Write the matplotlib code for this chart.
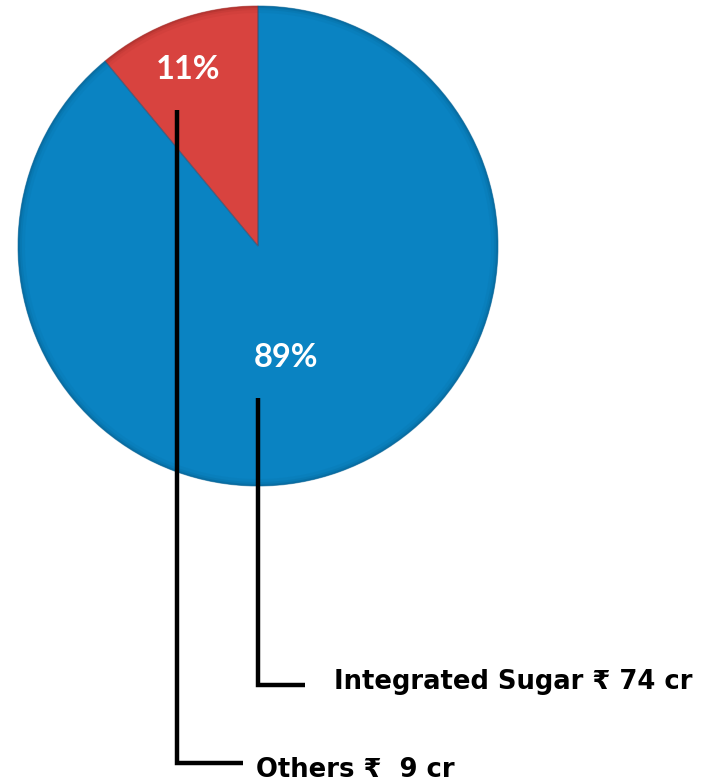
import numpy as np
import matplotlib.pyplot as plt
from matplotlib.patches import Wedge

# segment shares (%) and rupee amounts
segments = ["Others", "Integrated Sugar"]
shares = [11, 89]
amounts = ["₹  9 cr", "₹ 74 cr"]
colors = ["#D8433F", "#0A83C2"]
edge_colors = ["#9E2B28", "#075F8F"]

W, H = 715, 784
fig = plt.figure(figsize=(W / 100, H / 100), dpi=100)
ax = fig.add_axes([0, 0, 1, 1])

cx, cy, r = 258, H - 246, 240

wedges, _ = ax.pie(shares, colors=colors, startangle=90, counterclock=True,
                   center=(cx, cy), radius=r, frame=True,
                   wedgeprops=dict(linewidth=0))
ax.set_xlim(0, W)
ax.set_ylim(0, H)
ax.set_aspect("equal")
ax.axis("off")

# darker bevel just inside the outer edge of each wedge
for w, ec in zip(wedges, edge_colors):
    for width, a in [(7, 0.10), (4, 0.18), (2, 0.35)]:
        ax.add_patch(Wedge((cx, cy), r, w.theta1, w.theta2, width=width,
                           facecolor=ec, edgecolor="none", alpha=a))
    ax.add_patch(Wedge((cx, cy), r, w.theta1, w.theta2, fill=False,
                       edgecolor=ec, linewidth=0.8, alpha=0.5))

# percentage labels
pct_font = dict(family=["Lato", "DejaVu Sans"], fontweight="bold",
                fontsize=23.5, color="white", ha="center", va="center")
ax.text(188, H - 69, f"{shares[0]}%", **pct_font)
ax.text(286, H - 357, f"{shares[1]}%", **pct_font)

# leader lines and category labels
lab_font = dict(family=["DejaVu Sans"], fontweight="bold",
                fontsize=18.6, color="black", ha="left", va="center")
line_kw = dict(color="black", linewidth=3.2, solid_joinstyle="miter",
               solid_capstyle="butt")

ax.plot([177, 177, 243], [H - 110, H - 763, H - 763], **line_kw)
ax.text(256, H - 770, f"{segments[0]} {amounts[0]}", **lab_font)

ax.plot([258, 258, 305], [H - 398, H - 685, H - 685], **line_kw)
ax.text(334, H - 682, f"{segments[1]} {amounts[1]}", **lab_font)

fig.savefig("out.png", dpi=100)
